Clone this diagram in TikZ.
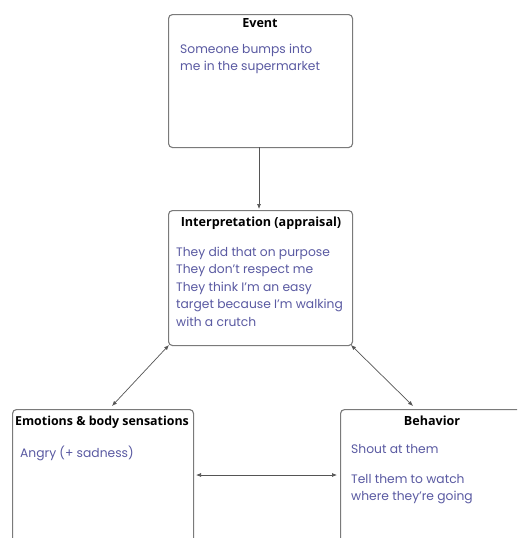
\documentclass[tikz,border=0pt]{standalone}
\usepackage{fontspec}
\setmainfont{Poppins}
\newfontfamily\titlefont{Open Sans}
\usetikzlibrary{arrows.meta}
\definecolor{boxgray}{HTML}{7A7A7A}
\definecolor{bodyblue}{HTML}{5A5AA2}
\definecolor{arrowgray}{HTML}{555555}
\tikzset{
  box/.style={draw=boxgray, line width=1.1pt, rounded corners=4pt},
  ttl/.style={font=\titlefont\bfseries\fontsize{12.6}{14}\selectfont, text=black, inner sep=0pt},
  body/.style={font=\fontsize{12.3}{17.4}\selectfont, text=bodyblue, inner sep=0pt, align=left, anchor=north west},
  link/.style={draw=arrowgray, line width=0.7pt, -{Latex[length=5pt,width=4pt]}},
  biline/.style={draw=arrowgray, line width=0.7pt, {Latex[length=5pt,width=4pt]}-{Latex[length=5pt,width=4pt]}}
}
\begin{document}
\begin{tikzpicture}[x=1pt,y=-1pt]
\useasboundingbox (0,0) rectangle (517,538);
\fill[white] (0,0) rectangle (517,538);
\begin{scope}
\clip (0,0) rectangle (517,538);
% boxes
\node[box, minimum width=184pt, minimum height=133pt, anchor=north west] (event) at (168,14) {};
\node[box, minimum width=184pt, minimum height=135pt, anchor=north west] (interp) at (168,210) {};
\node[box, minimum width=181pt, minimum height=150pt, anchor=north west] (emo) at (12,409) {};
\node[box, minimum width=200pt, minimum height=150pt, anchor=north west] (beh) at (340,409) {};
\end{scope}
% titles
\node[ttl] (eventt) at (260,23) {Event};
\node[ttl] (interpt) at (261,223) {Interpretation (appraisal)};
\node[ttl] (emot) at (102,422) {\fontsize{12.4}{14}\selectfont Emotions \& body sensations};
\node[ttl] (beht) at (432,421) {Behavior};
% body texts
\node[body] (eventb) at (180,44) {Someone bumps into\\me in the supermarket};
\node[body] (interpb) at (176,247) {They did that on purpose\\They don't respect me\\They think I'm an easy\\target because I'm walking\\with a crutch};
\node[body] (emob) at (20,446) {Angry (+ sadness)};
\node[body] (behb1) at (351,444) {Shout at them};
\node[body] (behb2) at (351,474) {Tell them to watch\\where they're going};
% connectors
\coordinate (evbot) at (259,147);
\coordinate (intop) at (259,209);
\draw[link] (evbot) -- (intop);
\coordinate (inbl) at (169,345);
\coordinate (emtop) at (112,406);
\draw[biline] (inbl) -- (emtop);
\coordinate (inbr) at (351,345);
\coordinate (behtop) at (413,406);
\draw[biline] (inbr) -- (behtop);
\coordinate (emr) at (196,475);
\coordinate (behl) at (337,475);
\draw[biline] (emr) -- (behl);
\end{tikzpicture}
\end{document}
